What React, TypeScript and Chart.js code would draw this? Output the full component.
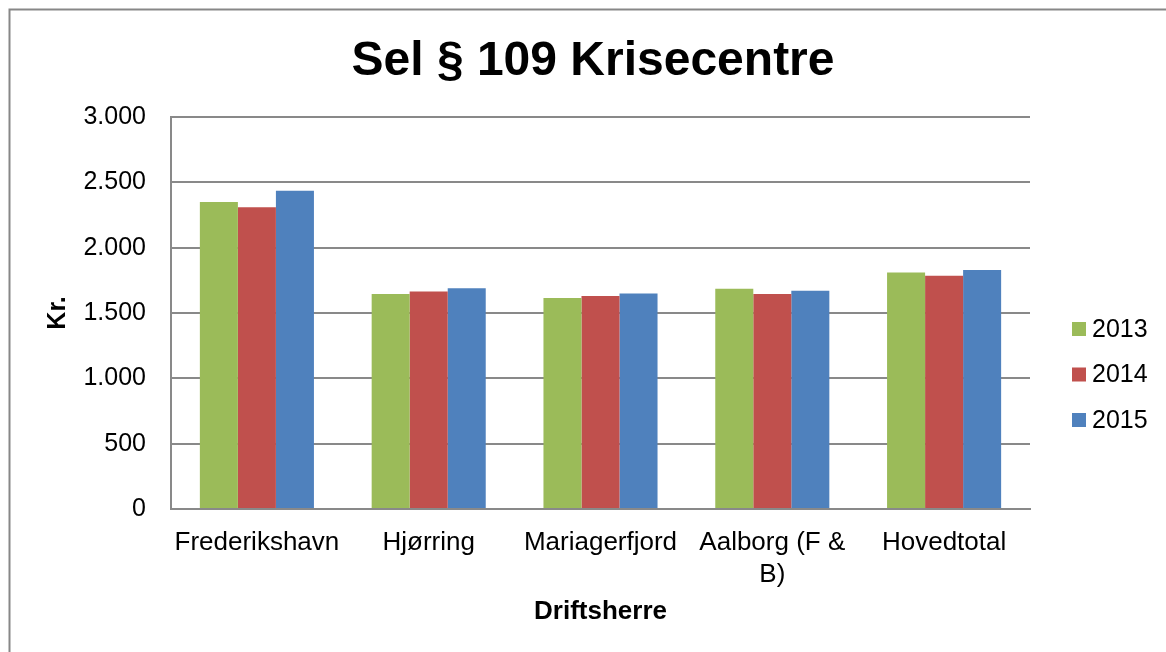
import React, { useEffect, useRef } from "react";
import { Chart, registerables } from "chart.js";

Chart.register(...registerables);

const categories: (string | string[])[] = [
  "Frederikshavn",
  "Hjørring",
  "Mariagerfjord",
  ["Aalborg (F &", "B)"],
  "Hovedtotal",
];
const seriesNames = ["2013", "2014", "2015"];
const values2013 = [2350, 1645, 1615, 1685, 1810];
const values2014 = [2310, 1665, 1630, 1645, 1785];
const values2015 = [2435, 1690, 1650, 1670, 1830];
const seriesColors = ["#9BBB59", "#C0504D", "#4F81BD"];
const yTickValues = [0, 500, 1000, 1500, 2000, 2500, 3000];
const yTickLabels = ["0", "500", "1.000", "1.500", "2.000", "2.500", "3.000"];
const titleText = "Sel § 109 Krisecentre";
const yTitle = "Kr.";
const xTitle = "Driftsherre";

const FONT = "'Liberation Sans', Arial, sans-serif";
const GRID = "#898989";

const framePlugin = {
  id: "frame",
  beforeDraw(chart: any) {
    const ctx = chart.ctx;
    ctx.save();
    ctx.fillStyle = "#ffffff";
    ctx.fillRect(0, 0, chart.width, chart.height);
    ctx.strokeStyle = "#878787";
    ctx.lineWidth = 2;
    ctx.beginPath();
    ctx.moveTo(1.5, chart.height + 10);
    ctx.lineTo(1.5, 1.5);
    ctx.lineTo(chart.width + 10, 1.5);
    ctx.stroke();
    ctx.restore();
  },
};

const titlePlugin = {
  id: "chartTitle",
  afterDraw(chart: any) {
    const ctx = chart.ctx;
    ctx.save();
    ctx.font = `bold 48px ${FONT}`;
    ctx.fillStyle = "#000000";
    ctx.textAlign = "center";
    ctx.textBaseline = "alphabetic";
    ctx.fillText(titleText, 585, 67);
    ctx.restore();
  },
};

const legendPlugin = {
  id: "sideLegend",
  afterDraw(chart: any) {
    const ctx = chart.ctx;
    const ds = chart.data.datasets;
    const x0 = chart.chartArea.right + 42;
    const yStart = 321;
    const step = 45.5;
    ctx.save();
    ctx.font = `25px ${FONT}`;
    ctx.textBaseline = "middle";
    ctx.textAlign = "left";
    ds.forEach((d: any, i: number) => {
      const cy = yStart + i * step;
      ctx.fillStyle = d.backgroundColor;
      ctx.fillRect(x0, cy - 7, 14, 14);
      ctx.fillStyle = "#000000";
      ctx.fillText(d.label, x0 + 20, cy + 1);
    });
    ctx.restore();
  },
};

export default function App() {
  const ref = useRef<HTMLCanvasElement | null>(null);
  useEffect(() => {
    if (!ref.current) return;
    const chart = new Chart(ref.current, {
      type: "bar",
      data: {
        labels: categories as any,
        datasets: [values2013, values2014, values2015].map((vals, i) => ({
          label: seriesNames[i],
          data: vals,
          backgroundColor: seriesColors[i],
          borderWidth: 0,
          categoryPercentage: 0.664,
          barPercentage: 1,
        })),
      },
      options: {
        animation: false,
        responsive: true,
        maintainAspectRatio: false,
        devicePixelRatio: 1,
        layout: { padding: { left: 12, right: 136, top: 109, bottom: 0 } },
        plugins: {
          legend: { display: false },
          tooltip: { enabled: false },
          title: { display: false },
        },
        scales: {
          x: {
            grid: { display: false, drawTicks: false },
            border: { display: true, color: GRID, width: 2 },
            ticks: {
              color: "#000000",
              font: { family: FONT, size: 26, lineHeight: 1.23 },
              padding: 18,
              maxRotation: 0,
              autoSkip: false,
            },
            title: {
              display: true,
              text: xTitle,
              color: "#000000",
              font: { family: FONT, size: 26, weight: "bold", lineHeight: 1.2 },
              padding: { top: 0, bottom: 24.4 },
            },
            afterFit: (scale: any) => {
              scale.height = 143;
            },
          },
          y: {
            min: 0,
            max: 3000,
            afterBuildTicks: (scale: any) => {
              scale.ticks = yTickValues.map((v) => ({ value: v }));
            },
            ticks: {
              color: "#000000",
              font: { family: FONT, size: 25 },
              padding: 25,
              callback: (_v: any, i: number) => yTickLabels[i],
            },
            grid: { color: GRID, lineWidth: 2, drawTicks: false },
            border: { display: true, color: GRID, width: 2 },
            title: {
              display: true,
              text: yTitle,
              color: "#000000",
              font: { family: FONT, size: 25, weight: "bold", lineHeight: 1.2 },
              padding: { top: 23, bottom: 0 },
            },
            afterFit: (scale: any) => {
              scale.width = 151;
            },
          },
        },
      },
      plugins: [framePlugin, titlePlugin, legendPlugin],
    } as any);
    return () => chart.destroy();
  }, []);
  return (
    <div
      style={{
        position: "fixed",
        left: 8,
        top: 8,
        width: 1158,
        height: 644,
        background: "#ffffff",
      }}
    >
      <canvas ref={ref} />
    </div>
  );
}
